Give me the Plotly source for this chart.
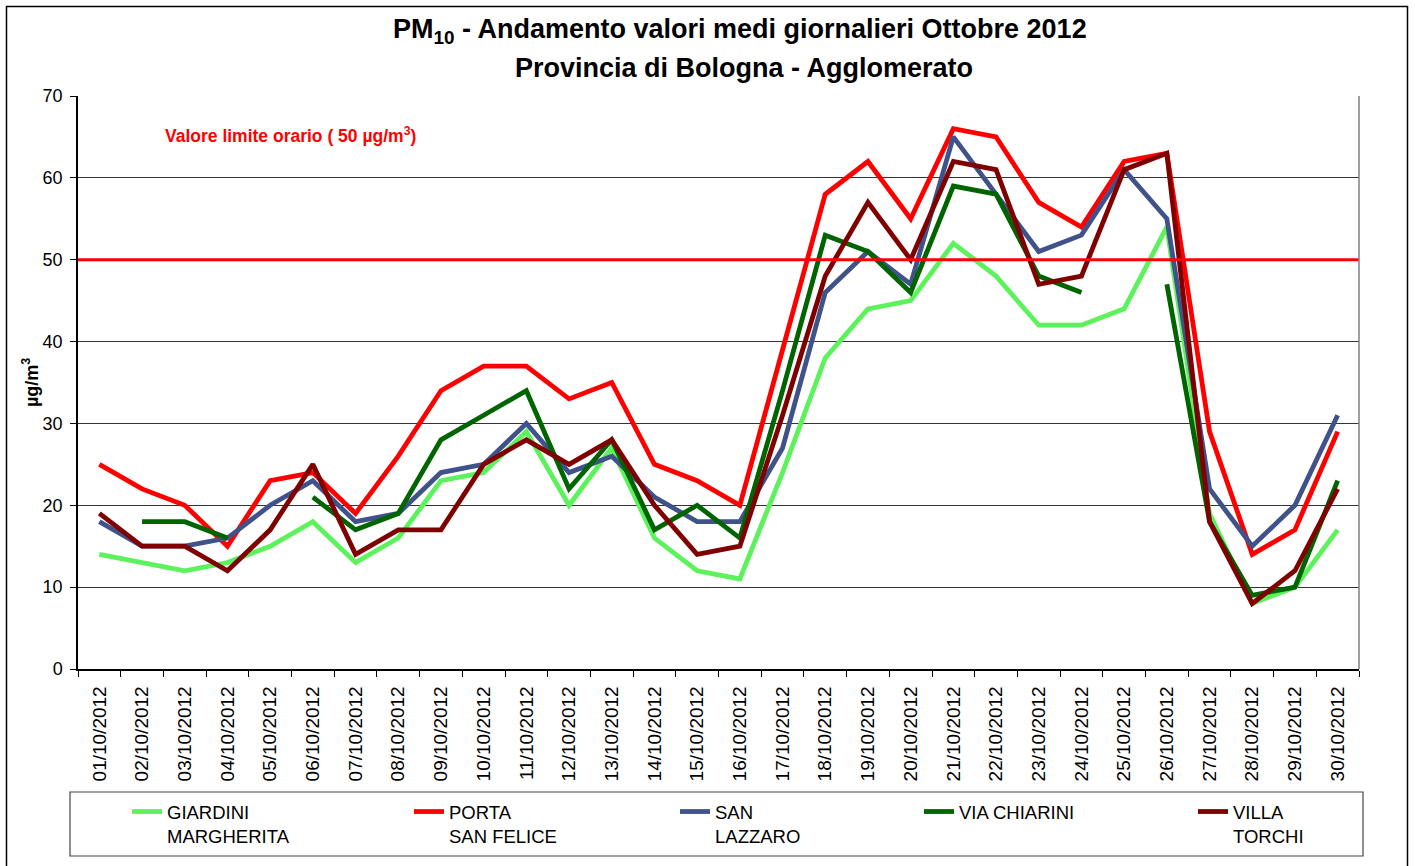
import plotly.graph_objects as go

days = ["%02d/10/2012" % d for d in range(1, 31)]

giardini = [14, 13, 12, 13, 15, 18, 13, 16, 23, 24, 29, 20, 27, 16, 12, 11, 24, 38, 44, 45,
            52, 48, 42, 42, 44, 54, 19, 8, 10, 17]
porta = [25, 22, 20, 15, 23, 24, 19, 26, 34, 37, 37, 33, 35, 25, 23, 20, 39, 58, 62, 55,
         66, 65, 57, 54, 62, 63, 29, 14, 17, 29]
lazzaro = [18, 15, 15, 16, 20, 23, 18, 19, 24, 25, 30, 24, 26, 21, 18, 18, 27, 46, 51, 47,
           65, 58, 51, 53, 61, 55, 22, 15, 20, 31]
chiarini = [None, 18, 18, 16, None, 21, 17, 19, 28, 31, 34, 22, 28, 17, 20, 16, 34, 53, 51, 46,
            59, 58, 48, 46, None, 47, 18, 9, 10, 23]
torchi = [19, 15, 15, 12, 17, 25, 14, 17, 17, 25, 28, 25, 28, 20, 14, 15, 31, 48, 57, 50,
          62, 61, 47, 48, 61, 63, 18, 8, 12, 22]

limit_value = 50

series_names = ["GIARDINI<br>MARGHERITA", "PORTA<br>SAN FELICE", "SAN<br>LAZZARO",
                "VIA CHIARINI", "VILLA<br>TORCHI"]
series_values = [giardini, porta, lazzaro, chiarini, torchi]
series_colors = ["#5CF25C", "#FF0000", "#3F5289", "#006400", "#800000"]

FONT = "Liberation Sans, Arial, sans-serif"

# plot area in pixels
PL, PR, PT, PB = 78, 1359, 96, 669
W, H = 1415, 866


def px2x(px):
    return (px - PL) / (PR - PL)


def px2y(py):
    return (PB - py) / (PB - PT)


legend_names = ["legend", "legend2", "legend3", "legend4", "legend5"]
legend_text_x = [169, 451, 717, 961, 1235]

fig = go.Figure()
for name, vals, col, lg in zip(series_names, series_values, series_colors, legend_names):
    fig.add_trace(go.Scatter(
        x=days, y=vals, name=name, mode="lines",
        line=dict(color=col, width=4.8),
        connectgaps=False, legend=lg,
    ))

layout_legends = {}
for lg, tx in zip(legend_names, legend_text_x):
    layout_legends[lg] = dict(
        xref="container", yref="container",
        x=(tx - 42) / W, xanchor="left",
        y=1 - 793 / H, yanchor="top",
        bgcolor="rgba(0,0,0,0)", borderwidth=0,
        font=dict(family=FONT, size=18.5, color="#000"),
        valign="top", orientation="v",
    )

fig.update_layout(
    width=W, height=H,
    margin=dict(l=PL, r=W - PR, t=PT, b=H - PB, pad=0, autoexpand=False),
    paper_bgcolor="white", plot_bgcolor="white",
    showlegend=True,
    font=dict(family=FONT, color="#000"),
    xaxis=dict(
        type="category", range=[-0.5, 29.5],
        showgrid=False, zeroline=False,
        showline=True, linecolor="#000", linewidth=1.5,
        ticks="outside", ticklen=6, tickcolor="#000", tickson="boundaries",
        tickangle=-90, tickfont=dict(family=FONT, size=19, color="#000"),
        ticklabelstandoff=8,
    ),
    yaxis=dict(
        range=[0, 70], dtick=10, tick0=0,
        showgrid=True, gridcolor="#333", gridwidth=1,
        zeroline=False,
        showline=True, linecolor="#000", linewidth=1.5,
        ticks="outside", ticklen=6, tickcolor="#000",
        tickfont=dict(family=FONT, size=18, color="#000"),
        ticklabelstandoff=4,
    ),
    **layout_legends,
)

shapes = [
    # limit line
    dict(type="line", xref="paper", yref="y", x0=0, x1=1, y0=limit_value, y1=limit_value,
         line=dict(color="#FF0000", width=3), layer="above"),
    # plot area right border
    dict(type="line", xref="paper", yref="paper", x0=1, x1=1, y0=0, y1=1,
         line=dict(color="#808080", width=1.5)),
    # legend box
    dict(type="rect", xref="paper", yref="paper",
         x0=px2x(70), x1=px2x(1363), y0=px2y(856), y1=px2y(792),
         line=dict(color="#444", width=1.2)),
    # outer chart border
    dict(type="rect", xref="paper", yref="paper",
         x0=px2x(6.5), x1=px2x(1407.5), y0=px2y(880), y1=px2y(6.5),
         line=dict(color="#000", width=1.5)),
]
fig.update_layout(shapes=shapes)

annotations = [
    dict(text="<b>PM<sub>10</sub> - Andamento valori medi giornalieri Ottobre 2012</b>",
         x=px2x(740), y=px2y(31), xref="paper", yref="paper",
         xanchor="center", yanchor="middle", showarrow=False,
         font=dict(family=FONT, size=27, color="#000")),
    dict(text="<b>Provincia di Bologna - Agglomerato</b>",
         x=px2x(744), y=px2y(68), xref="paper", yref="paper",
         xanchor="center", yanchor="middle", showarrow=False,
         font=dict(family=FONT, size=27, color="#000")),
    dict(text="<b>µg/m<sup>3</sup></b>",
         x=px2x(30), y=px2y(383), xref="paper", yref="paper",
         xanchor="center", yanchor="middle", showarrow=False, textangle=-90,
         font=dict(family=FONT, size=18, color="#000")),
    dict(text="<b>Valore limite orario ( 50 µg/m<sup>3</sup>)</b>",
         x=px2x(163), y=px2y(135), xref="paper", yref="paper",
         xanchor="left", yanchor="middle", showarrow=False,
         font=dict(family=FONT, size=17.5, color="#FF0000")),
]
fig.update_layout(annotations=annotations)

fig.write_html("out.html", config={"displayModeBar": False},
               post_script="document.body.style.margin='0';")
